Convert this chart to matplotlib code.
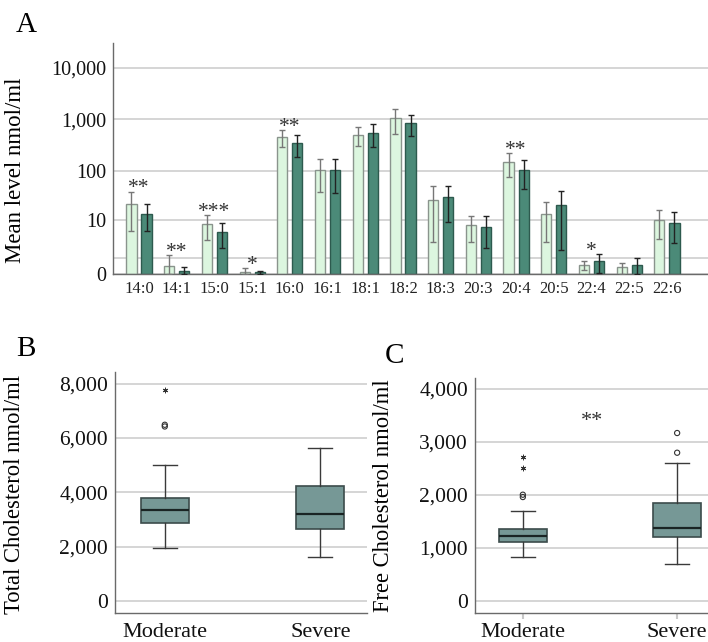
import numpy as np
import matplotlib
matplotlib.use('Agg')
import matplotlib.pyplot as plt
from matplotlib.ticker import FixedLocator

plt.rcParams['font.family'] = ['Liberation Serif', 'DejaVu Serif']

# ---------------- data ----------------
categories = ['14:0', '14:1', '15:0', '15:1', '16:0', '16:1', '18:1', '18:2',
              '18:3', '20:3', '20:4', '20:5', '22:4', '22:5', '22:6']
moderate_mean = [22, 0.43, 8.2, 0.09, 456, 102, 499, 1054, 26, 7.8, 146, 13.4, 0.48, 0.35, 10.2]
moderate_low = [5.8, 0.0, 3.6, 0.0, 292, 37.6, 309, 530, 3.1, 3.1, 75, 3.1, 0.18, 0.0, 3.7]
moderate_high = [38.6, 1.31, 12.8, 0.29, 617, 168, 705, 1577, 49.5, 12.6, 219, 23.7, 0.77, 0.61, 16.7]
severe_mean = [13.8, 0.13, 5.5, 0.08, 350, 102, 538, 843, 29.8, 7.2, 105, 20.6, 0.77, 0.52, 8.8]
severe_low = [5.8, 0.0, 2.15, 0.0, 189, 35.9, 288, 471, 9.4, 2.15, 44, 1.97, 0.05, 0.0, 3.06]
severe_high = [22, 0.35, 8.6, 0.14, 507, 168, 806, 1203, 49.5, 12.4, 165, 39.4, 1.41, 1.04, 14.8]
significance = ['**', '**', '***', '*', '**', '', '', '', '', '', '**', '', '*', '', '']
a_ticks = [0, 1, 10, 100, 1000, 10000]
a_ticklabels = ['0', '', '10', '100', '1,000', '10,000']

groups = ['Moderate', 'Severe']
# Total cholesterol box stats
tc_q1 = [2888, 2653]
tc_med = [3350, 3193]
tc_q3 = [3791, 4246]
tc_wlo = [1934, 1615]
tc_whi = [5017, 5615]
tc_out_circle = [[6485, 6422], []]
tc_out_star = [[7780], []]
# Free cholesterol box stats
fc_q1 = [1108, 1213]
fc_med = [1221, 1372]
fc_q3 = [1358, 1843]
fc_wlo = [825, 704]
fc_whi = [1704, 2609]
fc_out_circle = [[2006, 1962], [2798, 3170]]
fc_out_star = [[2717, 2509], []]
fc_sig = '**'

# ---------------- style ----------------
light_fill = '#dcf6df'
light_edge = '#8a948d'
dark_fill = '#4b8a78'
dark_edge = '#2d5a4e'
box_fill = '#769896'
box_edge = '#3c4c4b'
grid_c = '#d2d2d2'
spine_c = '#6a6a6a'

W, H = 708, 642
fig = plt.figure(figsize=(W / 100, H / 100), dpi=100)


def px_axes(l, t, r, b):
    return fig.add_axes([l / W, 1 - b / H, (r - l) / W, (b - t) / H])


def style(ax):
    for s in ['top', 'right']:
        ax.spines[s].set_visible(False)
    for s in ['left', 'bottom']:
        ax.spines[s].set_color(spine_c)
        ax.spines[s].set_linewidth(1.0)
    ax.set_axisbelow(True)
    ax.yaxis.grid(True, color=grid_c, linewidth=1.3)


# ---------------- Panel A ----------------
axA = px_axes(113, 43, 708, 274)
axA.set_yscale('function', functions=(lambda v: np.log10(np.maximum(v, 0) + 1),
                                      lambda y: 10 ** y - 1))
x = np.arange(len(categories))
mm = np.array(moderate_mean); ml = np.array(moderate_low); mh = np.array(moderate_high)
sm = np.array(severe_mean); sl = np.array(severe_low); sh = np.array(severe_high)
off, bw = 0.2, 0.27
axA.bar(x - off, mm, bw, color=light_fill, edgecolor=light_edge, linewidth=1.0, zorder=2)
axA.bar(x + off, sm, bw, color=dark_fill, edgecolor=dark_edge, linewidth=1.0, zorder=2)
axA.errorbar(x - off, mm, yerr=[mm - ml, mh - mm], fmt='none', ecolor='#777777',
             elinewidth=1.0, capsize=2.2, capthick=1.0, zorder=3)
axA.errorbar(x + off, sm, yerr=[sm - sl, sh - sm], fmt='none', ecolor='#222222',
             elinewidth=1.0, capsize=2.2, capthick=1.0, zorder=3)
for i, s in enumerate(significance):
    if s:
        top = max(mh[i], sh[i])
        axA.annotate(s, xy=(i, top), xytext=(0, -1), textcoords='offset points',
                     ha='center', va='baseline', fontsize=15.5, color='#333333')
axA.set_ylim(0, 30500)
axA.set_xlim(-0.69, len(categories) - 1 + 1.09)
axA.yaxis.set_major_locator(FixedLocator(a_ticks))
axA.set_yticklabels(a_ticklabels)
axA.yaxis.set_minor_locator(FixedLocator([]))
axA.set_xticks(x)
axA.set_xticklabels(categories)
style(axA)
axA.tick_params(axis='y', length=0, pad=5, labelsize=14.5, colors='#111111')
axA.tick_params(axis='x', length=0, pad=5, labelsize=12, colors='#222222')
axA.set_ylabel('Mean level nmol/ml', fontsize=16.5)
axA.yaxis.set_label_coords(-0.146, 0.45)


# ---------------- box panels ----------------
def box_panel(ax, q1, med, q3, wlo, whi, circ, star, ylim, yticks, ylabel, lab_xy):
    stats = []
    for i, g in enumerate(groups):
        stats.append(dict(label=g, q1=q1[i], med=med[i], q3=q3[i],
                          whislo=wlo[i], whishi=whi[i], fliers=[]))
    ax.bxp(stats, positions=[0, 1], widths=0.31, showfliers=False, patch_artist=True,
           boxprops=dict(facecolor=box_fill, edgecolor=box_edge, linewidth=1.2),
           medianprops=dict(color='#1a2424', linewidth=1.6),
           whiskerprops=dict(color='#3a3a3a', linewidth=1.0),
           capprops=dict(color='#3a3a3a', linewidth=1.0),
           capwidths=0.155)
    for i in range(2):
        if circ[i]:
            ax.scatter([i] * len(circ[i]), circ[i], s=14, facecolors='none',
                       edgecolors='#333333', linewidths=0.8, zorder=4)
        if star[i]:
            ax.scatter([i] * len(star[i]), star[i], s=12, marker=(6, 2, 0),
                       color='#333333', linewidths=0.7, zorder=4)
    ax.set_ylim(*ylim)
    ax.set_yticks(yticks)
    ax.set_yticklabels([f'{v:,}' for v in yticks])
    style(ax)
    ax.tick_params(axis='y', length=0, pad=5, labelsize=15.5, colors='#111111')
    ax.tick_params(axis='x', pad=3.5, labelsize=16, colors='#111111')
    ax.set_ylabel(ylabel, fontsize=16.3)
    ax.yaxis.set_label_coords(*lab_xy)


axB = px_axes(115, 372, 367, 613)
box_panel(axB, tc_q1, tc_med, tc_q3, tc_wlo, tc_whi, tc_out_circle, tc_out_star,
          (-440, 8426), [0, 2000, 4000, 6000, 8000], 'Total Cholesterol nmol/ml',
          (-0.357, 0.494))
axB.set_xlim(-0.32, 1.30)
axB.tick_params(axis='x', length=0, pad=7)

axC = px_axes(475, 378, 708, 613)
box_panel(axC, fc_q1, fc_med, fc_q3, fc_wlo, fc_whi, fc_out_circle, fc_out_star,
          (-226, 4208), [0, 1000, 2000, 3000, 4000], 'Free Cholesterol nmol/ml',
          (-0.348, 0.498))
axC.set_xlim(-0.31, 1.20)
axC.tick_params(axis='x', length=4, width=1.5, color='#c8c8c8', pad=3)
axC.text(0.45, 3380, fc_sig, ha='center', va='center', fontsize=16, color='#333333')

# panel letters
fig.text(26 / W, 1 - 25 / H, 'A', fontsize=21, ha='center', va='center')
fig.text(26 / W, 1 - 349 / H, 'B', fontsize=21, ha='center', va='center')
fig.text(394 / W, 1 - 356 / H, 'C', fontsize=21, ha='center', va='center')

fig.savefig('out.png', dpi=100)
